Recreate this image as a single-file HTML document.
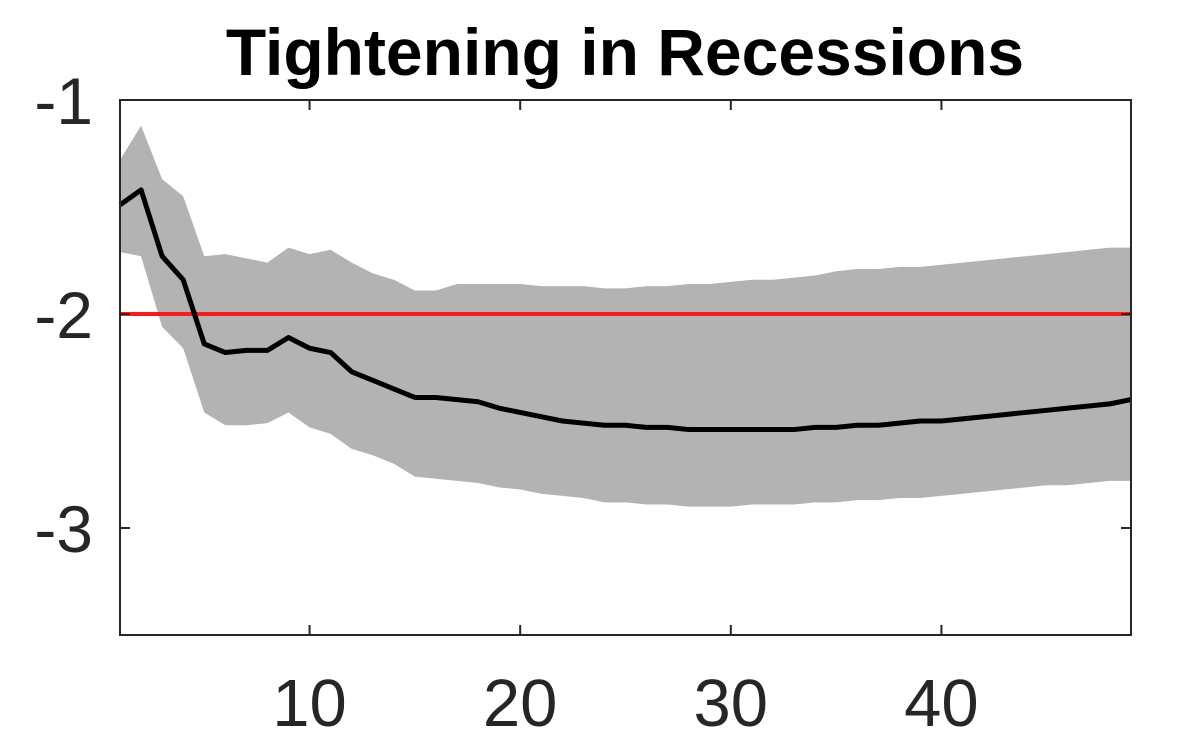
<!DOCTYPE html>
<html><head><meta charset="utf-8"><style>
html,body{margin:0;padding:0;background:#fff;}
svg{display:block;font-family:"Liberation Sans",Arial,sans-serif;}
</style></head><body>
<svg id="chart" width="1180" height="739" viewBox="0 0 1180 739">
<text x="625" y="75" text-anchor="middle" font-size="66" font-weight="bold" fill="#000">Tightening in Recessions</text>
<g id="plot"></g>
</svg>
<script>
const horizons = Array.from({length:49},(_,i)=>i+1);
const irfMedian = [-1.49,-1.42,-1.73,-1.84,-2.14,-2.18,-2.17,-2.17,-2.11,-2.16,-2.18,-2.27,-2.31,-2.35,-2.39,-2.39,-2.40,-2.41,-2.44,-2.46,-2.48,-2.50,-2.51,-2.52,-2.52,-2.53,-2.53,-2.54,-2.54,-2.54,-2.54,-2.54,-2.54,-2.53,-2.53,-2.52,-2.52,-2.51,-2.50,-2.50,-2.49,-2.48,-2.47,-2.46,-2.45,-2.44,-2.43,-2.42,-2.40];
const bandUpper = [-1.28,-1.12,-1.37,-1.45,-1.73,-1.72,-1.74,-1.76,-1.69,-1.72,-1.70,-1.76,-1.81,-1.84,-1.89,-1.89,-1.86,-1.86,-1.86,-1.86,-1.87,-1.87,-1.87,-1.88,-1.88,-1.87,-1.87,-1.86,-1.86,-1.85,-1.84,-1.84,-1.83,-1.82,-1.80,-1.79,-1.79,-1.78,-1.78,-1.77,-1.76,-1.75,-1.74,-1.73,-1.72,-1.71,-1.70,-1.69,-1.69];
const bandLower = [-1.71,-1.73,-2.06,-2.16,-2.46,-2.52,-2.52,-2.51,-2.46,-2.53,-2.56,-2.63,-2.66,-2.70,-2.76,-2.77,-2.78,-2.79,-2.81,-2.82,-2.84,-2.85,-2.86,-2.88,-2.88,-2.89,-2.89,-2.90,-2.90,-2.90,-2.89,-2.89,-2.89,-2.88,-2.88,-2.87,-2.87,-2.86,-2.86,-2.85,-2.84,-2.83,-2.82,-2.81,-2.80,-2.80,-2.79,-2.78,-2.78];
const refLevel = -2;
const xTicks = [10,20,30,40];
const yTicks = [-1,-2,-3];

const L=120,R=1131,T=100,B=635;
const xMin=1,xMax=49,yMin=-3.5,yMax=-1;
const xs=v=>L+(v-xMin)/(xMax-xMin)*(R-L);
const ys=v=>T+(yMax-v)/(yMax-yMin)*(B-T);
const NS="http://www.w3.org/2000/svg";
const g=document.getElementById('plot');
function mk(tag,attrs){const e=document.createElementNS(NS,tag);for(const k in attrs)e.setAttribute(k,attrs[k]);g.appendChild(e);return e;}

let d=horizons.map((h,i)=>(i?'L':'M')+xs(h)+','+ys(bandUpper[i])).join('');
for(let i=horizons.length-1;i>=0;i--)d+='L'+xs(horizons[i])+','+ys(bandLower[i]);
const band=mk('path',{d:d+'Z',fill:'#b3b3b3',stroke:'none'});



const ref=mk('line',{x1:L,x2:R,y1:ys(refLevel),y2:ys(refLevel),stroke:'#ff1a1a','stroke-width':4});



const ln=mk('path',{d:horizons.map((h,i)=>(i?'L':'M')+xs(h)+','+ys(irfMedian[i])).join(''),fill:'none',stroke:'#000','stroke-width':5,'stroke-linejoin':'round'});



const box=mk('rect',{x:L,y:T,width:R-L,height:B-T,fill:'none',stroke:'#262626','stroke-width':2});



xTicks.forEach(t=>{
  const x=xs(t);
  const tk=mk('path',{d:`M${x},${B}V${B-10}M${x},${T}V${T+10}`,stroke:'#262626','stroke-width':2});
  
  
  const lb=mk('text',{x:x,y:726,'text-anchor':'middle','font-size':67,fill:'#262626'});
  lb.textContent=t;
  
  
});
yTicks.forEach(t=>{
  const y=ys(t);
  const tk=mk('path',{d:`M${L},${y}H${L+10}M${R},${y}H${R-10}`,stroke:'#262626','stroke-width':2});
  
  
  const lb=mk('text',{x:93,y:y+24,'text-anchor':'end','font-size':66,fill:'#262626'});
  lb.textContent=t;
  
  
});
</script>
</body></html>
